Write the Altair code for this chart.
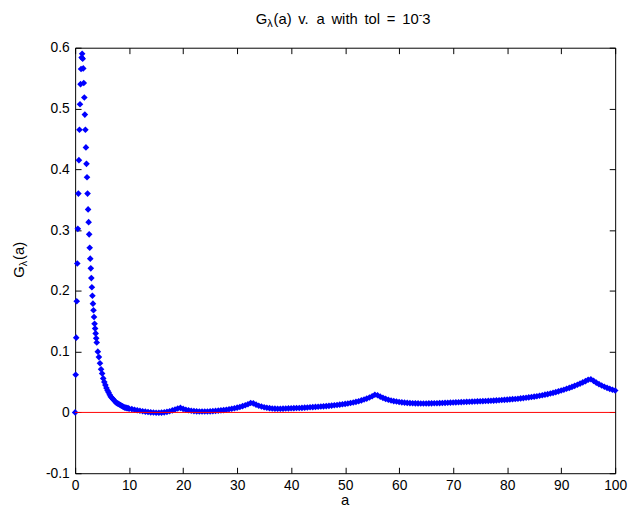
import altair as alt
import pandas as pd

# ---------------- data (a, G) ----------------
SPIKE = [(0.0, 0.0), (0.1, 0.062), (0.2, 0.123), (0.3, 0.183), (0.4, 0.245),
         (0.5, 0.302), (0.6, 0.360), (0.7, 0.415), (0.8, 0.465), (0.9, 0.507),
         (1.0, 0.540), (1.1, 0.565), (1.2, 0.584), (1.3, 0.590)]

DECAY = [(1.4, 0.582), (1.5, 0.566), (1.6, 0.542), (1.7, 0.518), (1.8, 0.490),
         (1.9, 0.465), (2.0, 0.436), (2.1, 0.409), (2.2, 0.387), (2.3, 0.360),
         (2.4, 0.334), (2.5, 0.313), (2.6, 0.293), (2.7, 0.271), (2.8, 0.253),
         (2.9, 0.237), (3.0, 0.221), (3.1, 0.206), (3.2, 0.192), (3.3, 0.179),
         (3.4, 0.168), (3.5, 0.157), (3.6, 0.146), (3.7, 0.138), (3.8, 0.130),
         (3.9, 0.122), (4.0, 0.115)]

TAIL = [(4.2, 0.100), (4.4, 0.091), (4.6, 0.081), (4.8, 0.071), (5.0, 0.064),
        (5.2, 0.056), (5.4, 0.050), (5.6, 0.045), (5.8, 0.040), (6.0, 0.036),
        (6.2, 0.033), (6.4, 0.029), (6.6, 0.026), (6.8, 0.024), (7.0, 0.022),
        (7.2, 0.020), (7.4, 0.018), (7.6, 0.016), (7.8, 0.015), (8.0, 0.014),
        (8.2, 0.013), (8.4, 0.012), (8.6, 0.011), (8.8, 0.010), (9.0, 0.009),
        (9.2, 0.008), (9.4, 0.008), (9.6, 0.007), (9.8, 0.007), (10.0, 0.006)]

FLAT = [(10.5, 0.0055), (11.0, 0.0045), (11.5, 0.0035), (12.0, 0.0027), (12.5, 0.0020),
        (13.0, 0.0013), (13.5, 0.0007), (14.0, 0.0002), (14.5, -0.0002), (15.0, -0.0005),
        (15.5, -0.0005), (16.0, -0.0003), (16.5, 0.0002), (17.0, 0.0010), (17.5, 0.0020),
        (18.0, 0.0033), (18.5, 0.0048), (19.0, 0.0065), (19.5, 0.0075), (20.0, 0.0058),
        (20.5, 0.0045), (21.0, 0.0035), (21.5, 0.0027), (22.0, 0.0022), (22.5, 0.0018),
        (23.0, 0.0016), (23.5, 0.0015), (24.0, 0.0015), (24.5, 0.0016), (25.0, 0.0018),
        (25.5, 0.0021), (26.0, 0.0025), (26.5, 0.0029), (27.0, 0.0034), (27.5, 0.0039),
        (28.0, 0.0045), (28.5, 0.0052), (29.0, 0.0060), (29.5, 0.0069), (30.0, 0.0079)]

BUMP33 = [(30.5, 0.0090), (31.0, 0.0103), (31.5, 0.0118), (32.0, 0.0135), (32.5, 0.0155),
          (33.0, 0.0150), (33.5, 0.0128), (34.0, 0.0110), (34.5, 0.0097), (35.0, 0.0086),
          (35.5, 0.0077), (36.0, 0.0070), (36.5, 0.0065), (37.0, 0.0062), (37.5, 0.0061),
          (38.0, 0.0061), (38.5, 0.0062), (39.0, 0.0064), (39.5, 0.0066), (40.0, 0.0068)]

BUMP56 = [(40.5, 0.0070), (41.0, 0.0072), (41.5, 0.0074), (42.0, 0.0076), (42.5, 0.0079),
          (43.0, 0.0082), (43.5, 0.0085), (44.0, 0.0088), (44.5, 0.0091), (45.0, 0.0094),
          (45.5, 0.0097), (46.0, 0.0100), (46.5, 0.0104), (47.0, 0.0108), (47.5, 0.0113),
          (48.0, 0.0118), (48.5, 0.0123), (49.0, 0.0128), (49.5, 0.0134), (50.0, 0.0140),
          (50.5, 0.0147), (51.0, 0.0155), (51.5, 0.0164), (52.0, 0.0174), (52.5, 0.0185),
          (53.0, 0.0198), (53.5, 0.0212), (54.0, 0.0228), (54.5, 0.0246), (55.0, 0.0266),
          (55.5, 0.0290), (56.0, 0.0282), (56.5, 0.0260), (57.0, 0.0240), (57.5, 0.0223),
          (58.0, 0.0209), (58.5, 0.0197), (59.0, 0.0187), (59.5, 0.0179), (60.0, 0.0172),
          (60.5, 0.0166), (61.0, 0.0161), (61.5, 0.0157), (62.0, 0.0154), (62.5, 0.0152),
          (63.0, 0.0150), (63.5, 0.0149), (64.0, 0.0148), (64.5, 0.0148), (65.0, 0.0148)]

RISE = [(65.5, 0.0149), (66.0, 0.0150), (66.5, 0.0151), (67.0, 0.0152), (67.5, 0.0154),
        (68.0, 0.0156), (68.5, 0.0158), (69.0, 0.0160), (69.5, 0.0162), (70.0, 0.0164),
        (70.5, 0.0166), (71.0, 0.0168), (71.5, 0.0170), (72.0, 0.0172), (72.5, 0.0174),
        (73.0, 0.0176), (73.5, 0.0178), (74.0, 0.0180), (74.5, 0.0182), (75.0, 0.0184),
        (75.5, 0.0186), (76.0, 0.0188), (76.5, 0.0190), (77.0, 0.0192), (77.5, 0.0195),
        (78.0, 0.0198), (78.5, 0.0201), (79.0, 0.0204), (79.5, 0.0207), (80.0, 0.0210),
        (80.5, 0.0214), (81.0, 0.0218), (81.5, 0.0222), (82.0, 0.0226), (82.5, 0.0231),
        (83.0, 0.0236), (83.5, 0.0241), (84.0, 0.0247), (84.5, 0.0253), (85.0, 0.0260)]

BUMP95 = [(85.5, 0.0267), (86.0, 0.0275), (86.5, 0.0283), (87.0, 0.0292), (87.5, 0.0301),
          (88.0, 0.0311), (88.5, 0.0322), (89.0, 0.0334), (89.5, 0.0347), (90.0, 0.0360),
          (90.5, 0.0374), (91.0, 0.0389), (91.5, 0.0404), (92.0, 0.0420), (92.5, 0.0437),
          (93.0, 0.0455), (93.5, 0.0474), (94.0, 0.0494), (94.5, 0.0515), (95.0, 0.0537),
          (95.5, 0.0545), (96.0, 0.0520), (96.5, 0.0490), (97.0, 0.0465), (97.5, 0.0443),
          (98.0, 0.0423), (98.5, 0.0405), (99.0, 0.0388), (99.5, 0.0373), (100.0, 0.0360)]

X_TICKS = [0, 10, 20, 30, 40, 50, 60, 70, 80, 90, 100]
Y_TICKS = [-0.1, 0.0, 0.1, 0.2, 0.3, 0.4, 0.5, 0.6]

# title pieces: (text, font size, vertical shift) -- G_λ(a) v. a with tol = 10^-3
TITLE_PARTS = [("G", 15, 0), ("λ", 11, 3), ("(a)", 15, 0), ("v.", 15, 0), ("a", 15, 0),
               ("with", 15, 0), ("tol", 15, 0), ("=", 15, 0), ("10", 15, 0),
               ("-", 11, -6), ("3", 15, 0)]
TITLE_LEFT = [183, 194.7, 200.9, 226, 244.5, 259.6, 293.1, 315.7, 331.3, 348, 351.7]
YLAB_G = "G"
YLAB_SUB = "λ"
YLAB_REST = "(a)"
XLAB = "a"

# ---------------- chart ----------------
rows = SPIKE + DECAY + TAIL + FLAT + BUMP33 + BUMP56 + RISE + BUMP95
df = pd.DataFrame(rows, columns=["a", "g"])

W, H = 547, 431
FONT = "Liberation Sans"
xs = alt.Scale(domain=[0, 100], nice=False, zero=False)
ys = alt.Scale(domain=[-0.1, 0.6], nice=False, zero=False)

lab_expr = ("datum.value < -1e-9 ? '-' + format(-datum.value, '.1f') : "
            "(abs(datum.value) < 1e-9 ? '0' : format(datum.value, '.1f'))")

points = alt.Chart(df).mark_point(
    shape="diamond", filled=True, color="#0000ff", size=45, opacity=1
).encode(
    x=alt.X("a:Q", scale=xs, axis=alt.Axis(
        orient="bottom", values=X_TICKS, ticks=False, domain=False, grid=False,
        labelPadding=5, labelFlush=False, title=None, format="d")),
    y=alt.Y("g:Q", scale=ys, axis=alt.Axis(
        orient="left", values=Y_TICKS, ticks=False, domain=False, grid=False,
        labelPadding=6, labelFlush=False, title=None, labelExpr=lab_expr)),
)

zero_df = pd.DataFrame({"x0": [0], "x1": [100], "y0": [0.0]})

zero = alt.Chart(zero_df).mark_rule(color="#ff0000", strokeWidth=1).encode(
    x=alt.X("x0:Q", scale=xs, axis=alt.Axis(
        orient="top", offset=-H, values=X_TICKS, labels=False, domain=False,
        grid=False, title=None)),
    x2="x1:Q",
    y=alt.Y("y0:Q", scale=ys, axis=alt.Axis(
        orient="right", offset=-W, values=Y_TICKS, labels=False, domain=False,
        grid=False, title=None)),
)

frame = alt.Chart(zero_df).mark_point(opacity=0).encode(
    x=alt.X("x0:Q", scale=xs, axis=alt.Axis(
        orient="bottom", offset=-H, values=X_TICKS, labels=False, domain=False,
        grid=False, title=None)),
    y=alt.Y("y0:Q", scale=ys, axis=alt.Axis(
        orient="left", offset=-W, values=Y_TICKS, labels=False, domain=False,
        grid=False, title=None)),
)


def txt(s, x, y, size, angle=0, align="left", baseline="alphabetic"):
    return alt.Chart(pd.DataFrame({"t": [s]})).mark_text(
        align=align, baseline=baseline, font=FONT, fontSize=size,
        angle=angle, color="black"
    ).encode(x=alt.value(x), y=alt.value(y), text="t:N")


texts = [txt(s, x, -24 + dy, fs) for (s, fs, dy), x in zip(TITLE_PARTS, TITLE_LEFT)]
texts += [
    txt(YLAB_G, -52, 233, 15, angle=270),
    txt(YLAB_SUB, -48.5, 221.3, 11, angle=270),
    txt(YLAB_REST, -52, 215, 15, angle=270),
    txt(XLAB, W / 2, 463, 15, align="center"),
]

chart = alt.layer(points, zero, frame, *texts).resolve_axis(
    x="independent", y="independent"
).properties(
    width=W, height=H,
    padding={"left": 68, "top": 37, "right": 13, "bottom": 32},
    autosize=alt.AutoSizeParams(type="none"),
    background="white",
).configure_view(
    stroke="black", strokeWidth=1
).configure_axis(
    labelFont=FONT, labelFontSize=14, labelColor="black",
    tickColor="black", tickSize=6, tickWidth=1,
)

chart.save("out.html", embed_options={"renderer": "svg", "actions": False})
